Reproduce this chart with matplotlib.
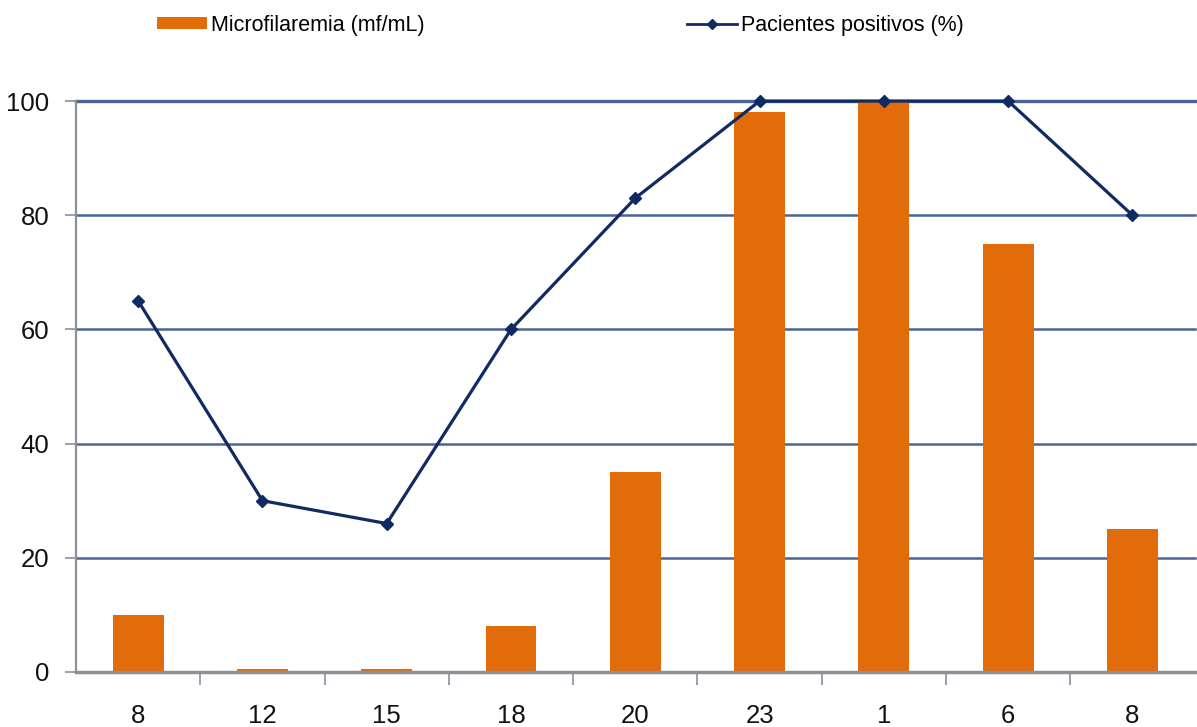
import matplotlib
matplotlib.use("Agg")
import matplotlib.pyplot as plt
from matplotlib.patches import Patch
from matplotlib.lines import Line2D

plt.rcParams['font.family'] = ['Liberation Sans', 'DejaVu Sans']

# Hour of day for each sample
hours = ["8", "12", "15", "18", "20", "23", "1", "6", "8"]
# Microfilaremia (mf/mL)
microfilaremia = [10, 0.6, 0.6, 8, 35, 98, 100, 75, 25]
# Positive patients (%)
positivos = [65, 30, 26, 60, 83, 100, 100, 100, 80]

bar_color = "#E36C0A"
line_color = "#0F2B62"
grid_color = "#4A6496"
axis_color = "#8C9097"

fig = plt.figure(figsize=(11.97, 7.27), dpi=100)
ax = fig.add_axes([0.0635, 0.0757, 0.9345, 0.7853])

x = list(range(len(hours)))
ax.bar(x, microfilaremia, width=0.41, color=bar_color, zorder=2)
ax.plot(x, positivos, color=line_color, lw=2.3, marker="D", ms=6,
        zorder=3, clip_on=False)

ax.set_xlim(-0.5, len(hours) - 0.5)
ax.set_ylim(0, 100)
ax.set_yticks([0, 20, 40, 60, 80, 100])
ax.set_xticks(x)
ax.set_xticklabels(hours)
ax.set_xticks([i + 0.5 for i in range(len(hours) - 1)], minor=True)

for y in [20, 40, 60, 80, 100]:
    ax.axhline(y, color=grid_color, lw=1.8 if y < 100 else 2.4, zorder=1,
               clip_on=False)

for s in ["top", "right"]:
    ax.spines[s].set_visible(False)
ax.spines["left"].set_color(axis_color)
ax.spines["left"].set_linewidth(1.6)
ax.spines["bottom"].set_color(axis_color)
ax.spines["bottom"].set_linewidth(2.5)
ax.spines["left"].set_zorder(4)
ax.spines["bottom"].set_zorder(4)

ax.tick_params(axis="y", length=8, width=1.2, color=axis_color,
               labelsize=18.5, labelcolor="#111111", pad=11)
ax.tick_params(axis="x", which="major", length=0, labelsize=18.5,
               labelcolor="#111111", pad=23)
ax.tick_params(axis="x", which="minor", length=9, width=1.2,
               color=axis_color)

handles = [
    Patch(facecolor=bar_color, edgecolor="none"),
    Line2D([0], [0], color=line_color, lw=2, marker="D", ms=5,
           markerfacecolor=line_color),
]
labels = ["Microfilaremia (mf/mL)", "Pacientes positivos (%)"]
fig.legend(handles, labels, loc="center left", bbox_to_anchor=(0.1243, 0.965),
           ncol=2, frameon=False, fontsize=15.5, handlelength=2.3,
           handleheight=0.5, handletextpad=0.2, columnspacing=12.2,
           borderaxespad=0)

fig.savefig("out.png", dpi=100, facecolor="white")
